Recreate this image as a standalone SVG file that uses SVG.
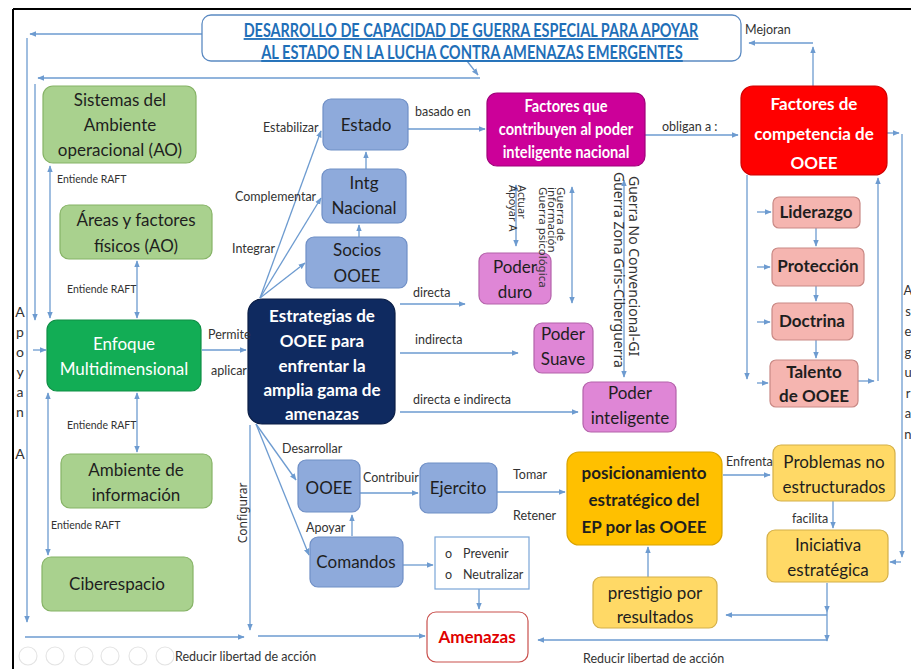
<svg xmlns="http://www.w3.org/2000/svg" width="911" height="669" viewBox="0 0 911 669">
<style>
text{font-family:Lato,"Liberation Sans",sans-serif}
.c{fill:none;stroke:#6d9bd0;stroke-width:1.3}
.a{marker-end:url(#ah)}
.d{marker-start:url(#ah);marker-end:url(#ah)}
.g1{fill:#a9d18e;stroke:#86b366;stroke-width:1.2}
.g2{fill:#12ad55;stroke:#0e8f45;stroke-width:1.2}
.b1{fill:#8eaadb;stroke:#6f8fc6;stroke-width:1.2}
.nv{fill:#0f2a60;stroke:#0a1d45;stroke-width:1.2}
.mg{fill:#cc0099;stroke:#a0007a;stroke-width:1.2}
.pk{fill:#df86d6;stroke:#b463aa;stroke-width:1.2}
.rd{fill:#ff0000;stroke:#d00000;stroke-width:1.2}
.sa{fill:#f5b5b0;stroke:#c98985;stroke-width:1.2}
.or{fill:#ffc000;stroke:#d9a300;stroke-width:1.2}
.ye{fill:#ffd966;stroke:#d4b049;stroke-width:1.2}
.nt{font-size:17px;fill:#1e1e1e;text-anchor:middle}
.w{fill:#ffffff}
.bd{font-weight:bold}
.lb{font-size:12.5px;fill:#333333}
.rf{font-size:10.5px;fill:#333333}
.rt{font-family:"Noto Sans",sans-serif;fill:#333333}
.tt{font-size:18px;font-weight:bold;fill:#1f6fb8;text-decoration:underline;text-anchor:middle}
.ui{fill:none;stroke:#e4e4e4;stroke-width:1.1}
</style>
<defs>
<marker id="ah" viewBox="0 0 10 10" refX="9" refY="5" markerWidth="7" markerHeight="7" markerUnits="userSpaceOnUse" orient="auto-start-reverse">
<path d="M0,1 L10,5 L0,9 z" fill="#6d9bd0"/>
</marker>
</defs>
<rect width="911" height="669" fill="#ffffff"/>
<g id="frame" stroke="#000000" stroke-width="2">
<line x1="13" y1="9" x2="911" y2="9"/>
<line x1="13" y1="9" x2="13" y2="669"/>
</g>

<g id="connectors">
<path class="c a" d="M202,34 H30"/>
<path class="c a" d="M27,38 V622"/>
<path class="c a" d="M467,61 L478,75"/>
<path class="c a" d="M480,78 H38"/>
<path class="c a" d="M35,84 V320"/>
<path class="c a" d="M33,350 H46"/>
<path class="c d" d="M50,166 V318"/>
<path class="c d" d="M137,261 V318"/>
<path class="c d" d="M137,393 V452"/>
<path class="c d" d="M48,393 V555"/>
<path class="c a" d="M202,350 H246"/>
<path class="c a" d="M260,298 L321,131"/>
<path class="c a" d="M260,298 L321,198"/>
<path class="c a" d="M260,298 L305,263"/>
<path class="c a" d="M359,237 V225"/>
<path class="c a" d="M366,169 V152"/>
<path class="c a" d="M408,129 H485"/>
<path class="c a" d="M645,135 H738"/>
<path class="c a" d="M887,133 H899"/>
<path class="c a" d="M902,134 V557"/>
<path class="c a" d="M901,562 H890"/>
<path class="c a" d="M813,86 V47"/>
<path class="c a" d="M813,43 H749"/>
<path class="c a" d="M747,175 V379"/>
<path class="c a" d="M757,212 H771"/>
<path class="c a" d="M757,267 H770"/>
<path class="c a" d="M757,322 H770"/>
<path class="c a" d="M757,383 H768"/>
<path class="c a" d="M816,228 V246"/>
<path class="c a" d="M816,286 V301"/>
<path class="c a" d="M816,340 V358"/>
<path class="c a" d="M858,381 H874"/>
<path class="c a" d="M878,381 V178"/>
<path class="c d" d="M516,185 V246"/>
<path class="c d" d="M572,187 V303"/>
<path class="c d" d="M624,180 V377"/>
<path class="c a" d="M400,304 H465"/>
<path class="c a" d="M400,353 H518"/>
<path class="c a" d="M400,412 H578"/>
<path class="c a" d="M256,424 L296,480"/>
<path class="c a" d="M256,424 L309,555"/>
<path class="c a" d="M250,425 V630"/>
<path class="c a" d="M25,637 H244"/>
<path class="c a" d="M258,636 H425"/>
<path class="c a" d="M360,493 H418"/>
<path class="c a" d="M352,536 V515"/>
<path class="c a" d="M403,565 H433"/>
<path class="c a" d="M479,589 V609"/>
<path class="c a" d="M497,492 H565"/>
<path class="c a" d="M723,475 H770"/>
<path class="c a" d="M833,501 V528"/>
<path class="c a" d="M827,583 V612"/>
<path class="c a" d="M827,612 V641"/>
<path class="c a" d="M827,615 H726"/>
<path class="c a" d="M827,640 H538"/>
<path class="c a" d="M648,577 V547"/>
</g>

<g id="title">
<rect x="202" y="15" width="539" height="46" rx="9" fill="#ffffff" stroke="#5b8ac2" stroke-width="1.3"/>
<text class="tt" transform="translate(471,37) scale(0.85,1)" x="0" y="0" textLength="535" lengthAdjust="spacingAndGlyphs">DESARROLLO DE CAPACIDAD DE GUERRA ESPECIAL PARA APOYAR</text>
<text class="tt" transform="translate(472,59) scale(0.85,1)" x="0" y="0" textLength="496" lengthAdjust="spacingAndGlyphs">AL ESTADO  EN LA LUCHA CONTRA AMENAZAS EMERGENTES</text>
</g>

<g id="sistemas">
<rect class="g1" x="43" y="86" width="153" height="77" rx="10"/>
<text class="nt" x="120" y="106">Sistemas del</text>
<text class="nt" x="120" y="131">Ambiente</text>
<text class="nt" x="120" y="156">operacional (AO)</text>
</g>
<g id="areas">
<rect class="g1" x="60" y="205" width="152" height="54" rx="9"/>
<text class="nt" x="136" y="226">Áreas y factores</text>
<text class="nt" x="136" y="252">físicos  (AO)</text>
</g>
<g id="enfoque">
<rect class="g2" x="47" y="320" width="154" height="71" rx="10"/>
<text class="nt w" x="124" y="350">Enfoque</text>
<text class="nt w" x="124" y="375">Multidimensional</text>
</g>
<g id="ambiente">
<rect class="g1" x="61" y="454" width="151" height="54" rx="9"/>
<text class="nt" x="136" y="476">Ambiente de</text>
<text class="nt" x="136" y="501">información</text>
</g>
<g id="ciberespacio">
<rect class="g1" x="42" y="557" width="151" height="54" rx="9"/>
<text class="nt" x="117" y="590">Ciberespacio</text>
</g>

<g id="estado">
<rect class="b1" x="323" y="99" width="85" height="51" rx="8"/>
<text class="nt" x="366" y="131">Estado</text>
</g>
<g id="intg">
<rect class="b1" x="322" y="169" width="84" height="54" rx="8"/>
<text class="nt" x="364" y="189">Intg</text>
<text class="nt" x="364" y="214">Nacional</text>
</g>
<g id="socios">
<rect class="b1" x="306" y="237" width="101" height="51" rx="8"/>
<text class="nt" x="357" y="256">Socios</text>
<text class="nt" x="357" y="282">OOEE</text>
</g>
<g id="estrategias">
<rect class="nv" x="248" y="299" width="147" height="125" rx="14"/>
<text class="nt w bd" x="322" y="322">Estrategias de</text>
<text class="nt w bd" x="322" y="347">OOEE para</text>
<text class="nt w bd" x="322" y="372">enfrentar la</text>
<text class="nt w bd" x="322" y="396">amplia gama de</text>
<text class="nt w bd" x="322" y="420">amenazas</text>
</g>

<g id="factores-que">
<rect class="mg" x="487" y="93" width="158" height="73" rx="10"/>
<text class="nt w bd" font-size="16" transform="translate(566,112) scale(0.86,1)">Factores que</text>
<text class="nt w bd" font-size="16" transform="translate(566,135) scale(0.86,1)">contribuyen al  poder</text>
<text class="nt w bd" font-size="16" transform="translate(566,158) scale(0.86,1)">inteligente nacional</text>
</g>
<g id="poder-duro">
<rect class="pk" x="479" y="253" width="72" height="51" rx="8"/>
<text class="nt" x="515" y="273">Poder</text>
<text class="nt" x="515" y="298">duro</text>
</g>
<g id="poder-suave">
<rect class="pk" x="534" y="323" width="59" height="50" rx="8"/>
<text class="nt" x="563" y="340">Poder</text>
<text class="nt" x="563" y="365">Suave</text>
</g>
<g id="poder-inteligente">
<rect class="pk" x="583" y="382" width="93" height="50" rx="8"/>
<text class="nt" x="630" y="399">Poder</text>
<text class="nt" x="630" y="424">inteligente</text>
</g>

<g id="factores-competencia">
<rect class="rd" x="741" y="86" width="146" height="89" rx="12"/>
<text class="nt w bd" x="814" y="110" font-size="20">Factores de</text>
<text class="nt w bd" x="814" y="140" font-size="20">competencia de</text>
<text class="nt w bd" x="814" y="169" font-size="20">OOEE</text>
</g>
<g id="liderazgo">
<rect class="sa" x="773" y="197" width="87" height="31" rx="6"/>
<text class="nt bd" x="816" y="218" font-size="15">Liderazgo</text>
</g>
<g id="proteccion">
<rect class="sa" x="772" y="248" width="92" height="38" rx="6"/>
<text class="nt bd" x="818" y="272" font-size="15">Protección</text>
</g>
<g id="doctrina">
<rect class="sa" x="772" y="303" width="81" height="37" rx="6"/>
<text class="nt bd" x="812" y="327" font-size="15">Doctrina</text>
</g>
<g id="talento">
<rect class="sa" x="770" y="360" width="88" height="47" rx="6"/>
<text class="nt bd" x="814" y="378" font-size="15.5">Talento</text>
<text class="nt bd" x="814" y="402" font-size="15.5">de OOEE</text>
</g>

<g id="ooee">
<rect class="b1" x="298" y="460" width="62" height="52" rx="8"/>
<text class="nt" x="329" y="494">OOEE</text>
</g>
<g id="ejercito">
<rect class="b1" x="420" y="463" width="77" height="50" rx="8"/>
<text class="nt" x="458" y="494">Ejercito</text>
</g>
<g id="comandos">
<rect class="b1" x="310" y="537" width="93" height="50" rx="8"/>
<text class="nt" x="356" y="568">Comandos</text>
</g>
<g id="prevenir">
<rect x="435" y="537" width="94" height="52" fill="#ffffff" stroke="#7aa6d8" stroke-width="1.2"/>
<text class="lb" x="445" y="558">o</text>
<text class="lb" x="463" y="558">Prevenir</text>
<text class="lb" x="445" y="579">o</text>
<text class="lb" x="463" y="579">Neutralizar</text>
</g>
<g id="posicionamiento">
<rect class="or" x="567" y="452" width="155" height="93" rx="12"/>
<text class="nt bd" x="644" y="479" font-size="18.5">posicionamiento</text>
<text class="nt bd" x="644" y="506" font-size="18.5">estratégico del</text>
<text class="nt bd" x="644" y="533" font-size="18.5">EP por las OOEE</text>
</g>
<g id="problemas">
<rect class="ye" x="773" y="445" width="122" height="56" rx="8"/>
<text class="nt" x="834" y="468">Problemas  no</text>
<text class="nt" x="834" y="493">estructurados</text>
</g>
<g id="iniciativa">
<rect class="ye" x="767" y="530" width="121" height="52" rx="8"/>
<text class="nt" x="828" y="551">Iniciativa</text>
<text class="nt" x="828" y="576">estratégica</text>
</g>
<g id="prestigio">
<rect class="ye" x="593" y="577" width="124" height="51" rx="8"/>
<text class="nt" x="655" y="599">prestigio por</text>
<text class="nt" x="655" y="623">resultados</text>
</g>
<g id="amenazas">
<rect x="427" y="612" width="101" height="50" rx="9" fill="#ffffff" stroke="#c9504d" stroke-width="1.2"/>
<text class="nt bd" x="477" y="643" font-size="19" style="fill:#e00000">Amenazas</text>
</g>

<g id="labels">
<text class="lb" x="745" y="34">Mejoran</text>
<text class="lb" x="263" y="132">Estabilizar</text>
<text class="lb" x="415" y="116">basado en</text>
<text class="lb" x="662" y="131">obligan a :</text>
<text class="rf" x="57" y="183">Entiende RAFT</text>
<text class="lb" x="235" y="201">Complementar</text>
<text class="lb" x="232" y="253">Integrar</text>
<text class="rf" x="67" y="293">Entiende RAFT</text>
<text class="lb" x="208" y="339">Permite</text>
<text class="lb" x="211" y="375">aplicar</text>
<text class="lb" x="413" y="297">directa</text>
<text class="lb" x="415" y="344">indirecta</text>
<text class="lb" x="413" y="404">directa e indirecta</text>
<text class="rf" x="67" y="429">Entiende RAFT</text>
<text class="rf" x="51" y="529">Entiende RAFT</text>
<text class="lb" x="282" y="453">Desarrollar</text>
<text class="lb" x="363" y="482">Contribuir</text>
<text class="lb" x="513" y="479">Tomar</text>
<text class="lb" x="513" y="520">Retener</text>
<text class="lb" x="306" y="532">Apoyar</text>
<text class="lb" x="726" y="466">Enfrenta</text>
<text class="lb" x="792" y="523">facilita</text>
<text class="lb" x="175" y="661">Reducir libertad de  acción</text>
<text class="lb" x="583" y="663">Reducir libertad de  acción</text>
<text class="rt" font-size="12" text-anchor="middle" transform="translate(247,513) rotate(-90)">Configurar</text>
<text class="rt" font-size="11" transform="translate(518,185) rotate(90)">Actuar</text>
<text class="rt" font-size="11" transform="translate(509,185) rotate(90)">Apoyar A</text>
<text class="rt" font-size="11.5" transform="translate(557,187) rotate(90)">Guerra  de</text>
<text class="rt" font-size="11.5" transform="translate(548,187) rotate(90)">información</text>
<text class="rt" font-size="11.5" transform="translate(539,187) rotate(90)">Guerra psicológica</text>
<text class="rt" font-size="14" transform="translate(629,176) rotate(90)">Guerra No Convencional-GI</text>
<text class="rt" font-size="14" transform="translate(614,172) rotate(90)">Guerra Zona Gris-Ciberguerra</text>
<text font-size="14" fill="#333333" text-anchor="middle"><tspan x="20" y="317">A</tspan><tspan x="20" y="337">p</tspan><tspan x="20" y="357">o</tspan><tspan x="20" y="377">y</tspan><tspan x="20" y="397">a</tspan><tspan x="20" y="417">n</tspan><tspan x="20" y="459">A</tspan></text>
<text font-size="13" fill="#333333" text-anchor="middle"><tspan x="908" y="295">A</tspan><tspan x="908" y="316">s</tspan><tspan x="908" y="336">e</tspan><tspan x="908" y="357">g</tspan><tspan x="908" y="377">u</tspan><tspan x="908" y="398">r</tspan><tspan x="908" y="418">a</tspan><tspan x="908" y="439">n</tspan></text>
</g>

<g id="slide-controls">
<circle class="ui" cx="28" cy="656" r="9"/>
<circle class="ui" cx="55" cy="656" r="9"/>
<circle class="ui" cx="84" cy="656" r="9"/>
<circle class="ui" cx="110" cy="656" r="9"/>
<circle class="ui" cx="138" cy="656" r="9"/>
<circle class="ui" cx="165" cy="656" r="9"/>
</g>
</svg>
